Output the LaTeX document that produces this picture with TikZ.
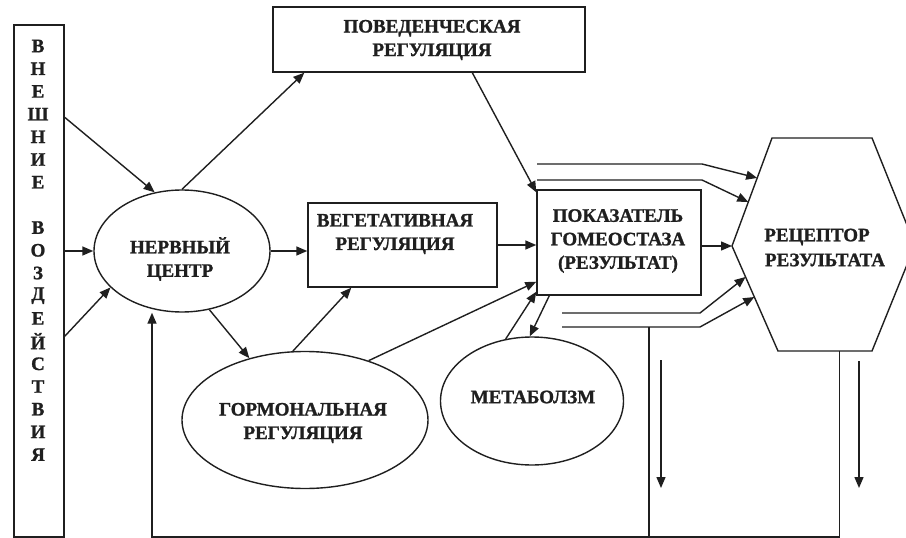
\documentclass[tikz,border=0pt]{standalone}
\usepackage{fontspec}
\setmainfont{Liberation Serif}[BoldFeatures={FakeBold=1.2}]
\usetikzlibrary{arrows.meta,shapes.geometric,calc}
\begin{document}
\begin{tikzpicture}[x=1pt,y=-1pt, line width=1.4pt, color=black!88,
  arr/.style={-{Triangle[length=11pt,width=9pt]}},
  lbl/.style={font=\fontsize{19}{23.5}\selectfont\bfseries, align=center, inner sep=0pt},
  ell/.style={draw, ellipse, inner sep=0pt},
  box/.style={draw, rectangle, inner sep=0pt}]
\clip (0,0) rectangle (906,538);
% left box
\node[box, minimum width=50pt, minimum height=512pt] (ext) at (39,281) {};
\foreach \c [count=\i] in {В,Н,Е,Ш,Н,И,Е,{},В,О,З,Д,Е,Й,С,Т,В,И,Я}
  \node[lbl] (l\i) at (38,{46+22.7*(\i-1)}) {\c};
% nodes
\node[ell, minimum width=176pt, minimum height=122pt] (nc) at (182,251) {};
\node[lbl] (nct) at (180,259) {НЕРВНЫЙ\\ЦЕНТР};
\node[box, minimum width=312pt, minimum height=65pt] (beh) at (429,39.5) {};
\node[lbl] (beht) at (432,40) {ПОВЕДЕНЧЕСКАЯ\\РЕГУЛЯЦИЯ};
\node[box, minimum width=189pt, minimum height=84pt] (veg) at (402.5,245) {};
\node[lbl] (vegt) at (395,234) {ВЕГЕТАТИВНАЯ\\РЕГУЛЯЦИЯ};
\node[box, minimum width=164pt, minimum height=105pt] (res) at (619,242.5) {};
\node[lbl] (rest) at (618,241) {ПОКАЗАТЕЛЬ\\ГОМЕОСТАЗА\\(РЕЗУЛЬТАТ)};
\node[ell, minimum width=246pt, minimum height=137pt] (horm) at (305,420) {};
\node[lbl] (hormt) at (303,423) {ГОРМОНАЛЬНАЯ\\РЕГУЛЯЦИЯ};
\node[ell, minimum width=183pt, minimum height=128pt] (met) at (532,401) {};
\node[lbl] (mett) at (533,397) {МЕТАБОЛЗМ};
% hexagon
\coordinate (hW) at (732,246);
\coordinate (hNW) at (772,138);
\coordinate (hNE) at (872,138);
\coordinate (hE) at (915,245);
\coordinate (hSE) at (872,351);
\coordinate (hSW) at (778,351);
\draw (hW) -- (hNW) -- (hNE) -- (hE) -- (hSE) -- (hSW) -- cycle;
\node[lbl] (hext1) at (817,237) {РЕЦЕПТОР};
\node[lbl] (hext2) at (825,260) {РЕЗУЛЬТАТА};
% connectors
\draw[arr] ($(ext.north east)+(0,93)$) -- (nc.115.5);
\draw[arr] (ext.east |- nc.west) -- (nc.west);
\draw[arr] ($(ext.north east)+(0,312)$) -- (nc.207.8);
\draw[arr] (nc.north) -- ($(beh.south west)+(32,0)$);
\draw[arr] ($(beh.south west)+(200,0)$) -- ($(res.north west)+(0,3)$);
\draw[arr] (nc.east) -- (veg.west |- nc.east);
\draw[arr] (veg.east) -- (res.west |- veg.east);
\draw[arr] (res.east |- hW) -- (hW);
\draw[arr] (nc.295.8) -- (horm.132.6);
\draw[arr] (horm.100.8) -- ($(veg.south west)+(44,0)$);
\draw[arr] (horm.43.6) -- ($(res.south west)+(0,-14)$);
\draw[arr] (met.113.2) -- ($(res.south west)+(0,-4)$);
\draw[arr] ($(res.south west)+(13,0)$) -- (met.92);
% inputs to receptor
\coordinate (a1) at (537,164);
\coordinate (a2) at (537,180);
\coordinate (b1) at (562,313);
\coordinate (b2) at (562,327);
\draw[arr] (a1) -- ++(165,0) -- ($(hW)!0.63!(hNW)$);
\draw[arr] (a2) -- ++(165,0) -- ($(hW)!0.407!(hNW)$);
\draw[arr] (b1) -- ++(138,0) -- ($(hW)!0.295!(hSW)$);
\draw[arr] (b2) -- ++(138,0) -- ($(hW)!0.486!(hSW)$);
% feedback
\coordinate (bl) at (152,537);
\coordinate (j1) at (649,327);
\draw (j1) -- (j1 |- bl);
\draw[arr] ($(hSW)!0.653!(hSE)$) -- ++(0,186) -- (bl) -- (bl |- nc.south);
% free down arrows
\coordinate (d1s) at (661,360);
\coordinate (d1e) at (661,488);
\coordinate (d2s) at (859,361);
\coordinate (d2e) at (859,488);
\draw[arr] (d1s) -- (d1e);
\draw[arr] (d2s) -- (d2e);
\end{tikzpicture}
\end{document}
